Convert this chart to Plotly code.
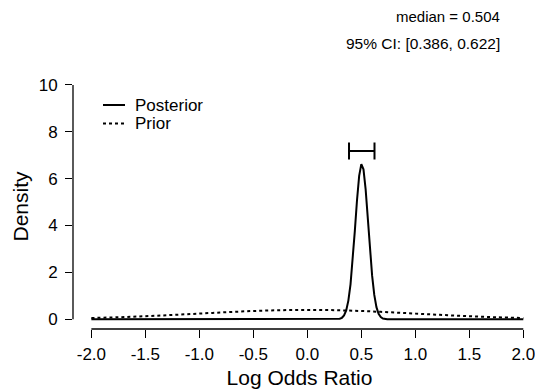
import plotly.graph_objects as go

# Posterior density
post_x = [-2.0, 0.0, 0.20, 0.28, 0.30, 0.32, 0.34, 0.36, 0.38, 0.40, 0.42, 0.44, 0.46, 0.48,
          0.50, 0.52, 0.54, 0.56, 0.58, 0.60, 0.62, 0.64, 0.66, 0.68, 0.70, 0.72,
          0.74, 0.80, 1.0, 2.0]
post_y = [0.0, 0.0, 0.0, 0.005, 0.021, 0.062, 0.162, 0.379, 0.795, 1.49, 2.51, 3.77, 5.08, 6.12,
          6.62, 6.40, 5.54, 4.30, 2.99, 1.86, 1.04, 0.517, 0.231, 0.092, 0.033, 0.011,
          0.003, 0.0, 0.0, 0.0]

# Prior density
prior_x = [-2.0, -1.75, -1.5, -1.25, -1.0, -0.75, -0.5, -0.25, 0.0,
           0.25, 0.5, 0.75, 1.0, 1.25, 1.5, 1.75, 2.0]
prior_y = [0.054, 0.086, 0.130, 0.183, 0.242, 0.301, 0.352, 0.387, 0.399,
           0.387, 0.352, 0.301, 0.242, 0.183, 0.130, 0.086, 0.054]

median = 0.504
ci_low, ci_high = 0.386, 0.622
ci_level = 7.18

x_ticks = [-2.0, -1.5, -1.0, -0.5, 0.0, 0.5, 1.0, 1.5, 2.0]
x_ticklabels = ["-2.0", "-1.5", "-1.0", "-0.5", "0.0", "0.5", "1.0", "1.5", "2.0"]
y_ticks = [0, 2, 4, 6, 8, 10]

FONT = "Liberation Sans, Arial, sans-serif"

fig = go.Figure()
fig.add_trace(go.Scatter(x=prior_x, y=prior_y, mode="lines", line_shape="spline",
                         line=dict(color="black", width=2, dash="3px,3px"),
                         showlegend=False, hoverinfo="skip"))
fig.add_trace(go.Scatter(x=post_x, y=post_y, mode="lines",
                         line=dict(color="black", width=2),
                         showlegend=False, hoverinfo="skip"))
fig.add_trace(go.Scatter(x=[median], y=[ci_level], mode="markers",
                         marker=dict(size=1, color="rgba(0,0,0,0)"),
                         error_x=dict(type="data", symmetric=False,
                                      array=[ci_high - median], arrayminus=[median - ci_low],
                                      color="black", thickness=2, width=8.5),
                         showlegend=False, hoverinfo="skip"))

# axis lines (offset R-style)
fig.add_shape(type="line", xref="x", yref="paper", x0=x_ticks[0], x1=x_ticks[-1], y0=0, y1=0,
              line=dict(color="black", width=1.3))
fig.add_shape(type="line", xref="paper", yref="y", x0=0, x1=0, y0=y_ticks[0], y1=y_ticks[-1],
              line=dict(color="black", width=1.3))

# legend
fig.add_shape(type="line", xref="paper", yref="paper", x0=(103-73)/453, x1=(125-73)/453,
              y0=(329-105)/245, y1=(329-105)/245, line=dict(color="black", width=2))
fig.add_shape(type="line", xref="paper", yref="paper", x0=(103-73)/453, x1=(125-73)/453,
              y0=(329-123.5)/245, y1=(329-123.5)/245, line=dict(color="black", width=2, dash="3px,3px"))
fig.add_annotation(xref="paper", yref="paper", x=(133-73)/453, y=(329-105)/245, text="Posterior",
                   showarrow=False, xanchor="left", yanchor="middle",
                   font=dict(family=FONT, size=17, color="black"))
fig.add_annotation(xref="paper", yref="paper", x=(133-73)/453, y=(329-123.5)/245, text="Prior",
                   showarrow=False, xanchor="left", yanchor="middle",
                   font=dict(family=FONT, size=17, color="black"))

# top texts
fig.add_annotation(xref="paper", yref="paper", x=(502-73)/453, y=(329-16.5)/245,
                   text=f"median = {median:.3f}", showarrow=False, xanchor="right", yanchor="middle",
                   font=dict(family=FONT, size=15, color="black"))
fig.add_annotation(xref="paper", yref="paper", x=(502-73)/453, y=(329-43.5)/245,
                   text=f"95% CI: [{ci_low:.3f}, {ci_high:.3f}]", showarrow=False,
                   xanchor="right", yanchor="middle",
                   font=dict(family=FONT, size=15.5, color="black"))

fig.update_layout(
    width=535, height=389,
    margin=dict(l=73, r=9, t=84, b=60, autoexpand=False),
    paper_bgcolor="white", plot_bgcolor="white",
    font=dict(family=FONT, color="black"),
    showlegend=False,
    xaxis=dict(range=[-2.17, 2.025], tickvals=x_ticks, ticktext=x_ticklabels,
               showgrid=False, zeroline=False, showline=False, automargin=False,
               ticks="outside", ticklen=8, tickwidth=1.3, tickcolor="black",
               ticklabeloverflow="allow", ticklabelstandoff=2,
               tickfont=dict(size=17, family=FONT),
               title=dict(text="Log Odds Ratio", font=dict(size=21, family=FONT), standoff=8)),
    yaxis=dict(range=[-0.416, 10.04], tickvals=y_ticks,
               showgrid=False, zeroline=False, showline=False, automargin=False,
               ticks="outside", ticklen=7, tickwidth=1.3, tickcolor="black",
               ticklabeloverflow="allow", ticklabelstandoff=4,
               tickfont=dict(size=17, family=FONT),
               title=dict(text="Density", font=dict(size=21, family=FONT), standoff=4)),
)

fig.write_html("out.html", config={"displayModeBar": False},
               post_script="document.body.style.margin='0';document.body.style.overflow='hidden';")
